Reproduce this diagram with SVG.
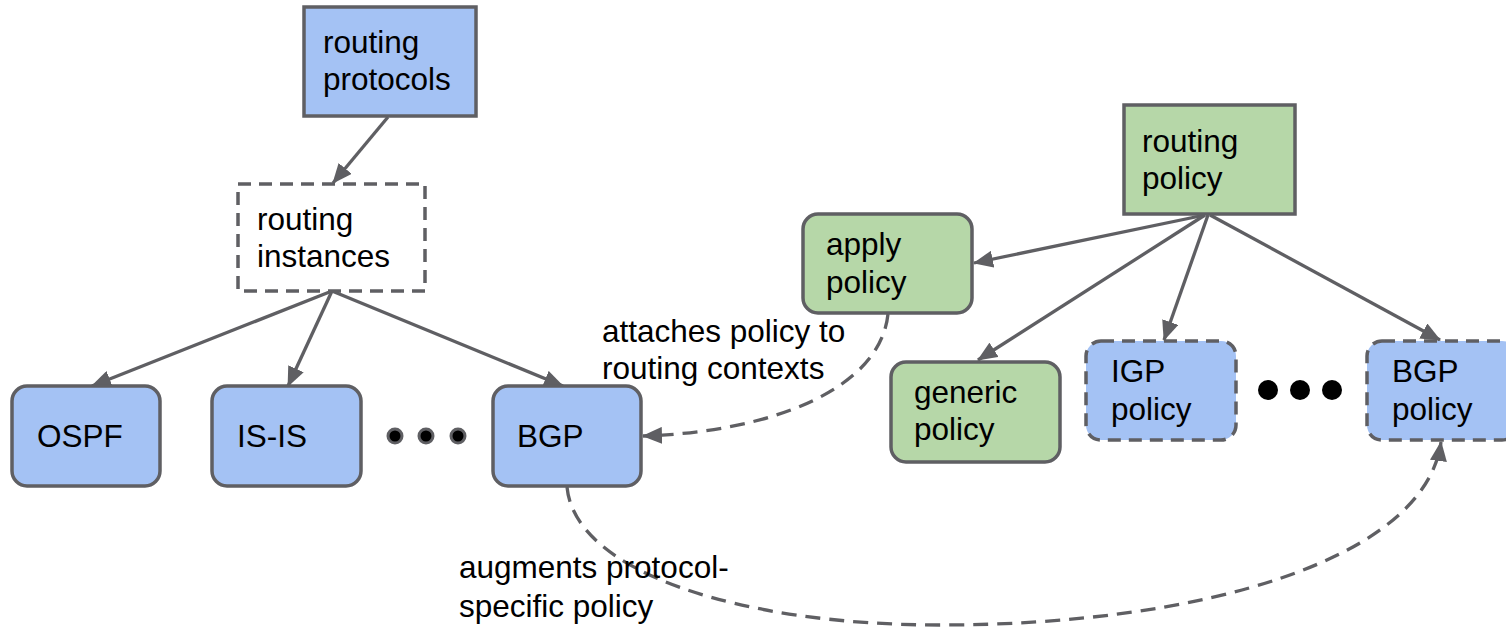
<svg xmlns="http://www.w3.org/2000/svg" width="1506" height="628" viewBox="0 0 1506 628">
  <style>
    .lbl { font-family: "Liberation Sans", Arial, sans-serif; font-size: 31.5px; fill: #000; }
    .blue { fill: #a4c2f4; stroke: #5f5f63; stroke-width: 3.5; }
    .green { fill: #b6d7a8; stroke: #5f5f63; stroke-width: 3.5; }
    .dash { stroke-dasharray: 13 8; }
    .plain { fill: #ffffff; stroke: #5f5f63; stroke-width: 3.5; }
    .edge { fill: none; stroke: #5f5f63; stroke-width: 3.3; }
    .edash { stroke-dasharray: 15 9; }
  </style>
  <defs>
    <marker id="arr" viewBox="0 0 20 17" refX="19" refY="8.5" markerWidth="20" markerHeight="17" markerUnits="userSpaceOnUse" orient="auto">
      <path d="M0,0 L20,8.5 L0,17 z" fill="#5f5f63"/>
    </marker>
  </defs>

  <g id="connectors">
    <line class="edge" x1="388" y1="117" x2="333" y2="183" marker-end="url(#arr)"/>
    <line class="edge" x1="332" y1="291" x2="92" y2="386" marker-end="url(#arr)"/>
    <line class="edge" x1="332" y1="291" x2="288" y2="386" marker-end="url(#arr)"/>
    <line class="edge" x1="332" y1="291" x2="563" y2="386" marker-end="url(#arr)"/>
    <line class="edge" x1="1205" y1="215" x2="974" y2="263" marker-end="url(#arr)"/>
    <line class="edge" x1="1205" y1="215" x2="978" y2="360" marker-end="url(#arr)"/>
    <line class="edge" x1="1208" y1="215" x2="1164" y2="340" marker-end="url(#arr)"/>
    <line class="edge" x1="1210" y1="215" x2="1440" y2="340" marker-end="url(#arr)"/>
    <path class="edge edash" d="M888,314 C880,390 770,432 643,436" marker-end="url(#arr)"/>
    <path class="edge edash" d="M567,487 C575,572 740,625 940,625 C1200,625 1425,560 1441,442" marker-end="url(#arr)"/>
  </g>

  <g id="routing-protocols">
    <rect class="blue" x="304" y="7" width="172" height="109"/>
    <text class="lbl" x="323" y="53">routing</text>
    <text class="lbl" x="323" y="90">protocols</text>
  </g>
  <g id="routing-instances">
    <rect class="plain dash" x="238" y="184" width="187" height="107"/>
    <text class="lbl" x="257" y="230">routing</text>
    <text class="lbl" x="257" y="267">instances</text>
  </g>
  <g id="ospf">
    <rect class="blue" x="12" y="386" width="148" height="100" rx="15"/>
    <text class="lbl" x="37" y="447">OSPF</text>
  </g>
  <g id="isis">
    <rect class="blue" x="212" y="386" width="149" height="100" rx="15"/>
    <text class="lbl" x="237" y="447">IS-IS</text>
  </g>
  <g id="left-dots">
    <circle cx="395" cy="436" r="7" fill="#000" stroke="#5f5f63" stroke-width="3"/>
    <circle cx="426" cy="436" r="7" fill="#000" stroke="#5f5f63" stroke-width="3"/>
    <circle cx="458" cy="436" r="7" fill="#000" stroke="#5f5f63" stroke-width="3"/>
  </g>
  <g id="bgp">
    <rect class="blue" x="493" y="386" width="148" height="100" rx="15"/>
    <text class="lbl" x="517" y="447">BGP</text>
  </g>

  <g id="routing-policy">
    <rect class="green" x="1124" y="105" width="171" height="109"/>
    <text class="lbl" x="1142" y="152">routing</text>
    <text class="lbl" x="1142" y="189">policy</text>
  </g>
  <g id="apply-policy">
    <rect class="green" x="803" y="214" width="169" height="99" rx="15"/>
    <text class="lbl" x="826" y="255">apply</text>
    <text class="lbl" x="826" y="293">policy</text>
  </g>
  <g id="generic-policy">
    <rect class="green" x="891" y="362" width="169" height="100" rx="15"/>
    <text class="lbl" x="914" y="403">generic</text>
    <text class="lbl" x="914" y="440">policy</text>
  </g>
  <g id="igp-policy">
    <rect class="blue dash" x="1086" y="341" width="150" height="99" rx="15"/>
    <text class="lbl" x="1111" y="382">IGP</text>
    <text class="lbl" x="1111" y="420">policy</text>
  </g>
  <g id="right-dots">
    <circle cx="1268" cy="390" r="10" fill="#000"/>
    <circle cx="1300" cy="390" r="10" fill="#000"/>
    <circle cx="1332" cy="390" r="10" fill="#000"/>
  </g>
  <g id="bgp-policy">
    <rect class="blue dash" x="1367" y="341" width="150" height="99" rx="15"/>
    <text class="lbl" x="1392" y="382">BGP</text>
    <text class="lbl" x="1392" y="420">policy</text>
  </g>

  <g id="labels">
    <text class="lbl" x="602" y="342">attaches policy to</text>
    <text class="lbl" x="602" y="379">routing contexts</text>
    <text class="lbl" x="459" y="578">augments protocol-</text>
    <text class="lbl" x="459" y="617">specific policy</text>
  </g>
</svg>
